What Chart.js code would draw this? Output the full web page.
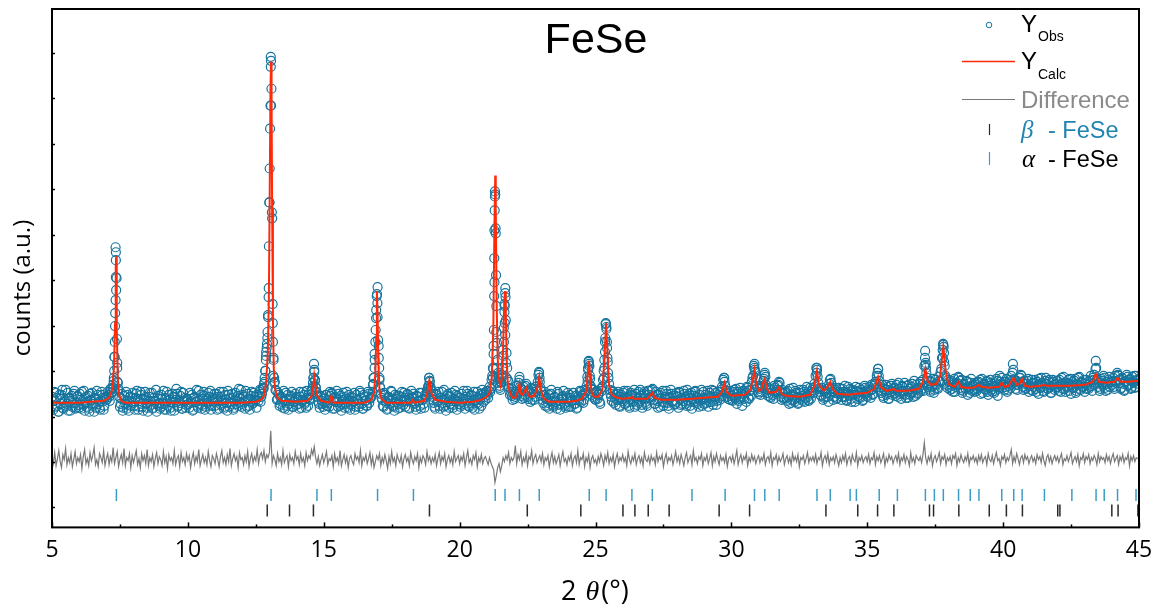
<!DOCTYPE html>
<html><head><meta charset="utf-8">
<script src="https://cdn.jsdelivr.net/npm/chart.js@4/dist/chart.umd.min.js"></script>
<style>html,body{margin:0;padding:0;background:#fff;}canvas{display:block;}</style>
</head><body>
<canvas id="c" width="1164" height="608"></canvas>
<script>
// ---------------- DATA ----------------
const obsStart = 5, obsStep = 0.05;
// observed counts on a 0.05 deg grid starting at 5.000 (arbitrary units)
const obsY = [
131,118,127,135,122,116,129,133,120,126,138,124,117,130,127,121,134,119,125,132,
120,128,136,123,117,131,126,119,134,128,122,116,129,137,124,120,127,133,118,130,
128,136,131,139,135,143,171,268,165,139,121,129,117,132,124,119,133,127,122,130,
125,118,134,129,121,136,124,117,128,131,120,126,135,123,119,130,127,116,132,125,
121,129,137,124,118,127,133,120,126,131,117,128,134,122,125,136,119,127,130,123,
128,120,125,133,118,131,126,122,137,124,119,129,132,121,127,135,123,118,130,126,
122,134,127,119,131,125,136,121,128,117,133,126,124,130,120,135,127,122,129,138,
124,131,119,127,134,122,129,136,125,131,128,133,127,138,131,140,144,157,180,213,
326,462,310,170,146,137,129,133,124,131,120,127,135,122,118,129,132,121,126,134,
123,128,119,131,126,136,124,120,130,133,128,137,145,156,141,135,126,120,131,124,
129,118,133,125,121,132,135,127,119,130,126,134,122,117,128,131,124,136,120,127,
123,130,126,118,133,128,121,135,124,119,131,127,122,134,129,131,136,150,186,232,
188,148,134,128,121,133,125,119,130,127,136,122,117,129,132,124,120,131,126,135,
121,128,133,119,126,130,134,124,118,131,127,122,135,129,120,131,136,142,147,137,
131,125,119,134,127,122,130,136,121,128,117,132,126,124,135,120,129,133,118,127,
130,123,126,137,119,128,134,121,125,132,127,118,131,136,124,129,122,133,135,128,
137,130,141,139,152,182,332,222,168,150,138,153,178,224,208,160,146,133,139,128,
136,131,142,135,148,139,129,141,133,144,131,137,126,139,134,128,141,137,153,146,
137,128,133,122,130,125,119,134,127,121,131,126,136,123,118,129,132,124,120,130,
126,133,121,128,135,124,119,131,127,136,132,125,138,137,151,166,149,139,131,135,
128,137,133,126,139,141,157,186,199,166,144,134,127,136,130,123,134,128,121,133,
129,137,124,131,126,120,135,132,127,121,134,129,125,138,123,130,136,126,122,133,
137,131,139,128,124,133,120,129,135,126,122,131,137,125,119,130,134,127,123,132,
126,120,135,129,124,137,131,122,128,134,126,119,132,136,125,130,121,127,138,129,
124,133,128,121,135,131,126,137,129,123,136,130,136,141,148,146,137,131,135,128,
133,127,138,130,124,136,129,134,122,131,137,126,140,129,137,146,152,160,150,140,
134,142,136,140,149,151,139,132,138,130,135,129,140,136,142,146,137,128,134,130,
136,127,131,139,125,133,128,137,130,124,135,129,132,138,126,134,131,127,140,136,
140,144,152,158,145,136,132,138,130,137,135,131,144,149,139,128,135,140,130,136,
134,128,139,131,136,127,141,133,129,138,135,126,137,132,140,130,136,128,142,134,
131,138,137,143,133,142,146,152,159,147,135,143,130,138,133,141,129,136,144,137,
140,132,138,145,134,129,141,137,133,142,130,139,135,144,131,138,143,134,140,146,
139,148,162,165,150,143,138,146,141,135,148,143,139,147,156,170,183,162,150,140,
146,138,143,136,149,141,145,151,147,138,135,144,140,147,133,139,145,137,142,136,
143,139,146,148,141,135,144,138,147,133,140,145,136,142,137,149,132,141,146,150,
143,138,146,136,142,148,152,155,145,139,147,143,150,153,146,138,144,140,147,136,
142,148,137,145,139,146,134,143,150,141,136,147,144,139,148,135,142,146,138,144,
147,137,143,150,139,145,136,141,148,144,134,146,140,149,137,143,151,138,145,141,
136,148,143,139,147,142,150,153,159,148,141,137,149,144,152,140,146,138,151,145,
143,150,139,147,155,152,145,140,149,137,146,153,142,148,139,151,145,140,152,147,
149];
// observed counts on the interleaved grid starting at 5.025
const obsStart2 = 5.025;
const obsY2 = [
127,136,121,130,116,133,124,138,119,128,122,135,129,117,132,125,137,120,131,123,
134,119,127,137,125,121,132,116,128,135,124,130,120,133,126,118,136,129,122,131,
129,133,127,138,140,150,215,250,145,131,124,134,120,128,136,123,117,131,126,135,
122,130,137,118,127,133,121,129,136,124,116,131,127,135,120,126,138,123,129,119,
133,124,118,130,136,122,128,117,134,125,131,139,121,127,132,119,135,126,120,129,
124,135,129,117,130,126,138,120,127,133,123,136,118,129,125,131,137,122,128,134,
129,118,131,136,123,127,119,133,125,137,121,130,134,118,128,124,132,139,126,121,
133,126,137,121,129,118,132,124,135,127,120,131,136,126,134,139,150,172,190,240,
400,440,205,150,138,128,135,122,130,126,137,119,128,133,124,131,136,121,127,130,
131,124,136,120,128,133,126,137,122,129,133,139,150,147,136,131,124,132,127,121,
125,133,122,128,136,134,119,130,126,137,121,128,132,124,135,120,129,126,133,118,
131,126,135,121,128,124,137,130,119,133,127,122,136,125,130,133,144,168,210,225,
170,140,130,122,135,127,118,131,124,137,129,121,133,126,119,132,128,136,123,130,
127,134,120,129,137,131,125,121,132,127,135,119,128,124,133,133,139,150,141,134,
128,121,133,126,136,119,130,125,138,122,129,134,120,131,127,123,137,126,132,124,
121,134,129,124,131,137,122,127,133,120,136,128,125,130,119,134,138,126,131,135,
133,137,136,148,160,270,300,185,155,142,146,160,200,235,175,148,140,136,132,134,
129,136,133,145,141,132,138,130,142,137,129,135,140,128,136,131,139,146,155,140,
132,125,136,129,121,133,127,138,123,130,126,119,134,128,124,131,137,122,129,135,
121,130,127,135,124,132,120,129,137,126,133,128,135,142,160,162,141,133,138,129,
136,129,134,124,137,148,168,204,180,150,138,131,137,125,133,128,136,122,131,127,
135,124,130,137,122,128,133,126,138,131,123,136,127,132,120,134,129,124,137,130,
128,138,132,124,136,127,133,121,130,137,125,129,134,122,131,138,126,132,124,135,
131,136,123,130,127,134,124,138,132,122,135,129,126,137,131,124,133,128,122,136,
130,125,137,132,126,138,123,131,135,127,133,128,132,139,150,142,135,129,137,132,
128,136,130,139,134,127,140,131,137,129,135,141,130,138,132,150,162,156,142,136,
139,133,141,147,153,143,135,140,131,138,133,142,136,138,143,145,131,138,129,135,
130,137,124,133,128,140,126,135,131,125,138,132,127,136,130,141,128,134,129,138,
135,141,160,151,139,133,140,128,136,131,139,126,148,145,136,131,138,129,134,140,
139,131,136,142,128,135,132,139,126,137,133,141,129,136,131,138,127,135,140,132,
136,141,130,138,134,144,140,155,152,141,137,132,139,143,135,129,138,142,133,139,
135,143,131,139,136,142,134,145,130,137,143,133,141,136,147,132,139,135,144,137,
143,137,170,155,141,147,136,142,149,138,144,140,151,146,159,178,175,152,143,148,
141,147,139,145,136,143,144,150,140,148,137,143,139,146,141,135,149,143,138,145,
137,145,141,134,149,143,139,146,136,142,148,138,144,135,141,147,139,152,144,140,
146,141,149,138,144,140,147,158,148,143,138,145,150,152,141,147,139,144,149,142,
138,145,141,148,136,143,149,140,145,137,144,150,139,146,141,135,148,143,140,147,
141,148,136,144,151,139,145,142,137,149,143,140,147,135,144,150,139,146,141,148,
144,139,146,141,152,137,148,143,160,149,145,139,147,142,150,137,144,148,141,146,
147,141,152,145,153,148,139,150,144,138,147,151,143,149,140,146,152,141,148,144];
// extra observed points read on the narrow Bragg peaks [2theta, counts]
const obsPeakPts = [
[7.25,140],[7.27,147],[7.29,157],[7.30,171],[7.31,186],[7.32,202],[7.34,228],[7.34,281],[7.35,276],[7.35,251],[7.36,238],[7.39,189],[7.40,160],[7.41,146],[7.44,137],[7.22,136],
[12.79,140],[12.82,146],[12.85,157],[12.87,168],[12.88,176],[12.91,184],[12.93,196],[12.95,211],[12.97,231],[12.98,282],[13.00,326],[13.01,360],[13.04,423],[13.05,472],[13.06,468],[13.06,423],[13.09,316],[13.12,224],[13.13,186],[13.14,152],[13.15,168],[13.18,145],
[14.60,141],[14.62,150],[14.64,164],[14.65,158],[14.68,148],[14.71,140],
[16.81,143],[16.83,150],[16.87,160],[16.87,174],[16.91,198],[16.93,218],[16.96,234],[16.98,241],[16.98,211],[17.02,182],[17.04,160],[17.05,150],[17.07,141],
[18.86,142],[18.88,150],[18.90,146],[18.93,140],
[21.22,150],[21.24,159],[21.25,174],[21.26,198],[21.27,232],[21.28,246],[21.28,298],[21.29,318],[21.30,337],[21.31,334],[21.33,295],[21.34,253],[21.35,196],[21.37,160],[21.39,150],[21.41,145],
[21.47,140],[21.52,145],[21.55,150],[21.58,160],[21.61,172],[21.63,186],[21.65,216],[21.66,222],[21.66,205],[21.68,240],[21.68,193],[21.69,231],[21.71,165],[21.73,150],
[22.20,151],[22.92,156],[22.94,150],
[24.71,147],[24.73,158],[24.75,167],[24.76,164],[24.79,152],[24.82,142],
[25.31,150],[25.33,160],[25.35,176],[25.36,190],[25.38,205],[25.40,201],[25.42,186],[25.44,170],[25.46,155],
[29.74,150],[30.85,164],[30.86,158],[31.23,155],[33.14,155],[33.15,160],[35.40,159],
[37.13,177],[37.14,163],[37.16,160],[37.78,170],[37.79,184],[37.81,181],[37.83,166],
[40.36,164],[43.41,167]
];
// calculated (Rietveld) profile [2theta, counts]
const calcPts = [
[5.0,125],[6.0,125],[6.9,127],[7.1,130],[7.2,137],[7.28,160],[7.32,205],[7.345,260],[7.36,272],[7.375,255],[7.39,200],[7.42,150],[7.47,133],[7.55,127],[7.7,125],
[9.0,125],[10.5,125],[12.0,125],[12.5,126],[12.7,128],[12.8,132],[12.88,145],[12.94,175],[12.98,230],[13.01,330],[13.04,440],[13.06,467],[13.08,430],[13.10,320],[13.13,210],[13.16,160],[13.2,140],[13.3,130],[13.45,127],
[14.0,126],[14.4,127],[14.55,132],[14.62,143],[14.65,152],[14.69,143],[14.76,132],[14.9,127],[15.2,125],[15.28,132],[15.36,125],
[16.5,125],[16.75,128],[16.85,135],[16.90,155],[16.93,190],[16.955,237],[16.98,215],[17.01,165],[17.05,138],[17.12,129],[17.3,125],
[18.2,125],[18.28,128],[18.33,125],[18.7,127],[18.8,134],[18.89,148],[18.97,134],[19.1,128],[19.5,126],[20.0,125],[20.5,126],[20.8,128],
[21.0,131],[21.1,135],[21.18,150],[21.24,200],[21.28,300],[21.31,353],[21.33,320],[21.36,230],[21.40,170],[21.45,148],[21.50,142],[21.56,150],[21.60,180],[21.64,225],[21.67,237],[21.70,215],[21.73,170],[21.77,145],[21.85,135],[21.95,130],
[22.05,130],[22.15,137],[22.2,144],[22.25,134],[22.32,133],[22.40,137],[22.46,140],[22.52,133],[22.6,131],[22.75,132],[22.86,140],[22.93,151],[22.99,138],[23.1,129],[23.3,126],
[24.0,126],[24.3,127],[24.5,129],[24.65,136],[24.72,155],[24.76,167],[24.80,150],[24.86,135],[24.95,131],[25.1,131],[25.25,138],[25.33,170],[25.39,205],[25.44,175],[25.5,142],[25.6,133],[25.8,130],
[26.0,129],[26.3,130],[26.34,131],[26.4,129],[26.9,129],[27.0,132],[27.09,135],[27.18,130],[27.4,128],[28.0,128],[28.55,129],[29.0,130],[29.5,131],[29.65,136],[29.74,145],[29.82,136],
[30.0,132],[30.5,133],[30.7,138],[30.80,150],[30.85,158],[30.91,145],[31.0,137],[31.1,138],[31.18,146],[31.23,149],[31.29,140],[31.4,135],[31.65,136],[31.76,141],[31.85,134],
[32.0,132],[32.5,131],[32.9,133],[33.05,142],[33.15,157],[33.22,143],[33.4,137],[33.56,142],[33.64,146],[33.72,139],[33.9,134],[34.3,133],[34.6,134],
[35.0,135],[35.25,139],[35.4,151],[35.5,141],[35.7,137],[35.9,138],[35.97,139],[36.05,137],[36.5,137],[36.9,139],[37.05,146],[37.14,159],[37.22,147],[37.35,143],[37.55,144],[37.68,152],[37.80,181],[37.88,158],[37.98,144],
[38.2,141],[38.3,144],[38.36,146],[38.45,141],[38.6,140],[38.9,140],[39.05,142],[39.11,143],[39.2,141],[39.5,140],[39.85,141],[39.95,145],[40.05,141],[40.2,142],[40.38,150],[40.5,143],[40.6,144],[40.69,149],[40.8,142],
[41.0,141],[41.4,142],[41.5,143],[41.6,142],[42.0,142],[42.5,142],[43.0,143],[43.3,146],[43.41,154],[43.52,146],[43.8,145],[44.1,146],[44.21,150],[44.32,146],[44.6,146],[45.0,147]
];
// difference curve (offset below the pattern) on the 0.05 deg grid
const diffY = [
71,64,75,62,69,77,66,60,73,68,79,63,70,65,74,61,68,76,64,70,
66,73,59,71,78,64,69,62,75,67,72,80,63,68,61,74,70,65,77,62,
69,74,63,71,66,80,64,70,76,61,68,73,65,79,62,70,67,74,60,72,
65,71,77,63,69,60,74,67,72,64,78,62,70,66,73,61,69,75,64,71,
68,62,76,65,71,59,73,67,70,64,77,63,69,72,61,75,66,70,63,74,
67,72,60,69,75,64,71,66,78,62,68,73,65,70,63,76,67,61,72,69,
64,74,68,61,71,77,65,70,63,73,66,79,62,69,74,67,71,60,75,68,
70,63,72,66,76,61,69,74,65,71,67,78,64,72,75,69,77,66,73,70,
75,97,64,72,68,62,74,66,70,63,77,65,69,72,61,73,67,70,64,76,
68,71,63,74,66,70,62,75,67,72,69,78,73,81,70,64,71,62,68,73,
65,70,76,63,69,67,72,61,74,66,70,64,77,62,68,73,65,71,60,69,
72,66,63,74,68,71,65,77,62,70,67,73,64,69,75,63,71,60,66,72,
68,74,62,70,65,73,67,59,71,64,76,66,70,62,73,68,65,72,61,69,
73,66,70,62,75,68,64,71,67,74,60,70,65,72,69,63,76,67,71,64,
70,66,73,62,69,75,64,71,67,74,61,68,72,65,70,63,76,66,69,72,
64,71,67,74,62,70,77,65,69,63,72,68,75,61,70,66,73,64,69,71,
67,63,70,65,61,58,45,52,60,64,56,62,70,66,72,68,75,64,70,67,
70,82,64,73,68,76,63,70,66,74,62,71,68,77,64,70,73,65,69,72,
66,74,63,70,67,72,61,69,75,65,71,64,68,73,62,70,76,66,69,63,
71,67,74,62,69,72,65,77,63,70,68,74,61,70,66,73,60,69,72,65,
68,63,71,66,74,69,62,72,67,75,64,70,66,73,61,69,74,65,70,67,
73,66,70,62,76,68,64,71,67,74,63,69,72,65,70,62,75,68,66,71,
64,72,67,70,63,75,66,71,68,73,61,69,74,65,70,67,72,63,69,76,
66,71,64,73,68,62,70,75,65,69,72,63,77,67,70,64,71,68,74,62,
70,67,73,64,69,75,62,71,66,74,68,63,72,67,70,65,73,61,69,71,
66,72,64,70,77,63,69,73,65,71,68,74,62,70,66,73,67,71,64,69,
72,65,70,67,74,63,69,71,66,75,62,70,68,73,64,71,66,69,74,63,
69,72,65,70,63,74,67,71,66,73,61,70,68,72,64,69,75,65,70,67,
71,66,73,64,70,68,75,62,69,72,66,74,63,70,67,71,65,73,68,62,
70,65,72,67,74,63,69,71,64,73,68,66,75,62,70,67,72,65,69,71,
66,73,64,70,68,75,63,71,67,72,65,69,74,62,70,66,73,68,71,64,
69,72,66,74,63,70,67,73,65,71,68,62,75,66,70,64,72,69,67,71,
65,73,85,70,64,71,67,74,62,69,72,66,70,75,64,71,68,73,63,70,
67,71,64,72,69,74,62,70,66,73,68,65,71,67,74,63,70,68,72,66,
70,64,72,67,73,65,69,71,63,74,68,66,72,64,70,75,67,69,62,71,
68,73,65,70,67,72,78,64,71,66,74,69,63,70,72,65,73,68,71,64,
69,72,66,70,64,73,68,71,65,74,67,62,70,73,66,71,64,69,72,67,
71,65,70,74,63,69,67,72,66,70,75,64,68,71,66,73,62,70,68,74,
65,71,68,73,64,70,67,72,69,63,74,66,71,68,70,65,73,67,71,64,
70,74,66,69,72,63,71,67,73,65,70,68,74,62,71,67,72,66,70,69,
68];
// reflection positions (2theta)
const alphaPos = [7.37,13.06,14.75,15.28,16.98,18.30,21.31,21.67,22.20,22.93,24.77,25.39,26.34,27.09,28.55,29.77,30.85,31.23,31.76,33.15,33.64,34.37,34.60,35.44,36.11,37.14,37.47,37.80,38.36,38.79,39.11,39.95,40.39,40.70,41.52,42.53,43.42,43.72,44.21,44.89];
const betaPos = [12.92,13.74,14.62,18.89,22.49,24.46,26.01,26.45,26.94,27.71,29.55,30.67,33.48,34.65,35.38,35.98,37.29,37.44,38.37,39.49,40.12,40.71,42.01,42.09,44.00,44.23,44.96];
const xTickVals = [5,10,15,20,25,30,35,40,45];
const yTickVals = [20,65.6,111.2,156.8,202.4,248,293.6,339.2,384.8,430.4,476];

// ---------------- BUILD ----------------
const gridPts = (arr, start) => arr.map((v,i)=>({x: +(start + i*obsStep).toFixed(3), y: v}));
const obsData = gridPts(obsY, obsStart).concat(gridPts(obsY2, obsStart2))
  .concat(obsPeakPts.map(p=>({x:p[0], y:p[1]})));
const diffData = gridPts(diffY, obsStart);
const calcData = calcPts.map(p=>({x:p[0], y:p[1]}));
const ALPHA_ROW = 32.5, BETA_ROW = 17;
const alphaData = alphaPos.map(x=>({x, y: ALPHA_ROW}));
const betaData = betaPos.map(x=>({x, y: BETA_ROW}));

const OBS_C = '#16759f', CALC_C = '#ff2a0a', DIFF_C = '#787878', ATICK_C = '#3c9cc6', BTICK_C = '#2a2a2a';

const deco = {
  id: 'deco',
  afterDraw(chart) {
    const ctx = chart.ctx, a = chart.chartArea;
    const xs = chart.scales.x, ys = chart.scales.y;
    ctx.save();
    ctx.strokeStyle = '#000'; ctx.lineWidth = 1.5;
    xTickVals.forEach((v,i)=>{
      const px = Math.round(xs.getPixelForValue(v))+0.5;
      ctx.beginPath(); ctx.moveTo(px, a.bottom); ctx.lineTo(px, a.bottom-5); ctx.stroke();
      if (i < xTickVals.length-1) {
        const pm = Math.round(xs.getPixelForValue(v+2.5))+0.5;
        ctx.beginPath(); ctx.moveTo(pm, a.bottom); ctx.lineTo(pm, a.bottom-3); ctx.stroke();
      }
    });
    yTickVals.forEach(v=>{
      const py = Math.round(ys.getPixelForValue(v))+0.5;
      ctx.beginPath(); ctx.moveTo(a.left, py); ctx.lineTo(a.left+3, py); ctx.stroke();
    });
    ctx.lineWidth = 2; ctx.strokeStyle = '#000';
    ctx.strokeRect(a.left, a.top, a.right-a.left, a.bottom-a.top);
    // title
    ctx.fillStyle = '#000';
    ctx.font = '43px "Liberation Sans", Arial, sans-serif';
    ctx.textAlign = 'center'; ctx.textBaseline = 'alphabetic';
    ctx.fillText('FeSe', 596, 53);
    // y title
    ctx.save();
    ctx.translate(30, 288); ctx.rotate(-Math.PI/2);
    ctx.font = '24px "Open Sans", sans-serif';
    ctx.textAlign = 'center';
    ctx.fillText('counts (a.u.)', 0, 0);
    ctx.restore();
    // x title
    ctx.textAlign = 'left';
    let x0 = 561;
    ctx.font = '27px "Open Sans", sans-serif';
    ctx.fillText('2 ', x0, 600); x0 += ctx.measureText('2 ').width + 2;
    ctx.font = 'italic 28px "Liberation Serif", serif';
    ctx.fillText('\u03B8', x0, 600); x0 += ctx.measureText('\u03B8').width + 2;
    ctx.font = '27px "Open Sans", sans-serif';
    ctx.fillText('(\u00B0)', x0, 600);
    // legend
    const sx = 989, lx0 = 962, lx1 = 1015, tx = 1021;
    ctx.strokeStyle = OBS_C; ctx.lineWidth = 1;
    ctx.beginPath(); ctx.arc(sx, 25, 2.8, 0, Math.PI*2); ctx.stroke();
    ctx.fillStyle = '#000';
    ctx.font = '24px "Liberation Sans", Arial, sans-serif';
    ctx.fillText('Y', tx, 32);
    ctx.font = '14px "Liberation Sans", Arial, sans-serif';
    ctx.fillText('Obs', 1038, 41);
    ctx.strokeStyle = CALC_C; ctx.lineWidth = 1.5;
    ctx.beginPath(); ctx.moveTo(lx0, 61.5); ctx.lineTo(lx1, 61.5); ctx.stroke();
    ctx.font = '24px "Liberation Sans", Arial, sans-serif';
    ctx.fillText('Y', tx, 68.5);
    ctx.font = '14px "Liberation Sans", Arial, sans-serif';
    ctx.fillText('Calc', 1038, 78.5);
    ctx.strokeStyle = DIFF_C; ctx.lineWidth = 1;
    ctx.beginPath(); ctx.moveTo(lx0, 99.5); ctx.lineTo(lx1, 99.5); ctx.stroke();
    ctx.fillStyle = '#8a8a8a';
    ctx.font = '24px "Liberation Sans", Arial, sans-serif';
    ctx.fillText('Difference', 1021, 107.5);
    ctx.strokeStyle = BTICK_C; ctx.lineWidth = 1.2;
    ctx.beginPath(); ctx.moveTo(sx+0.5, 124); ctx.lineTo(sx+0.5, 135); ctx.stroke();
    ctx.fillStyle = '#1f85b0';
    ctx.font = 'italic 25px "Liberation Serif", serif';
    ctx.fillText('\u03B2', 1021, 138);
    ctx.font = '23.5px "Liberation Sans", Arial, sans-serif';
    ctx.fillText('- FeSe', 1048, 138);
    ctx.strokeStyle = ATICK_C;
    ctx.beginPath(); ctx.moveTo(sx+0.5, 152); ctx.lineTo(sx+0.5, 165); ctx.stroke();
    ctx.fillStyle = '#000';
    ctx.font = 'italic 25px "Liberation Serif", serif';
    ctx.fillText('\u03B1', 1022, 166.5);
    ctx.font = '23.5px "Liberation Sans", Arial, sans-serif';
    ctx.fillText('- FeSe', 1048, 166.5);
    ctx.restore();
  }
};

new Chart(document.getElementById('c'), {
  type: 'scatter',
  data: { datasets: [
    { label:'Y_Calc', data: calcData, showLine:true, borderColor: CALC_C, borderWidth: 2, pointRadius: 0, order: 0 },
    { label:'Difference', data: diffData, showLine:true, borderColor: DIFF_C, borderWidth: 1.2, pointRadius: 0, order: 1 },
    { label:'Y_Obs', data: obsData, showLine:false, pointStyle:'circle', pointRadius: 4.5, borderColor: OBS_C, backgroundColor:'rgba(0,0,0,0)', pointBorderWidth: 1.2, order: 2 },
    { label:'alpha', data: alphaData, showLine:false, pointStyle:'line', rotation: 90, pointRadius: 6, borderColor: ATICK_C, pointBorderWidth: 1.5, order: 3 },
    { label:'beta', data: betaData, showLine:false, pointStyle:'line', rotation: 90, pointRadius: 6, borderColor: BTICK_C, pointBorderWidth: 1.5, order: 3 }
  ]},
  options: {
    responsive: false, devicePixelRatio: 1, animation: false,
    layout: { padding: { left: 52, right: 25, top: 9, bottom: 35 } },
    plugins: { legend: { display: false }, tooltip: { enabled: false } },
    scales: {
      x: { type: 'linear', min: 5, max: 45,
        afterBuildTicks: s => { s.ticks = xTickVals.map(v=>({value:v})); },
        ticks: { font: { family: '"Open Sans", sans-serif', size: 23 }, color: '#000', padding: 9, maxRotation: 0, autoSkip: false },
        grid: { display: false, drawTicks: false }, border: { display: false } },
      y: { display: false, min: 0, max: 520 }
    }
  },
  plugins: [deco]
});
</script>
</body></html>
